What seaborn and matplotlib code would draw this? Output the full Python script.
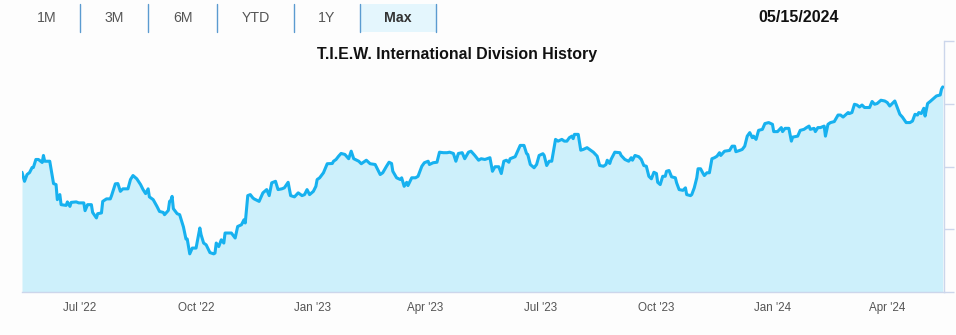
import matplotlib
matplotlib.use("Agg")
import matplotlib.pyplot as plt
import matplotlib.dates as mdates
from matplotlib.patches import Rectangle
from matplotlib.lines import Line2D
import pandas as pd
import seaborn as sns

# ---- division history (closing values) ----
dates_2022 = [
    "2022-05-16", "2022-05-18", "2022-05-20", "2022-05-22", "2022-05-24", "2022-05-25",
    "2022-05-27", "2022-05-29", "2022-06-01", "2022-06-02", "2022-06-03", "2022-06-07",
    "2022-06-10", "2022-06-12", "2022-06-13", "2022-06-15", "2022-06-16", "2022-06-20",
    "2022-06-21", "2022-06-23", "2022-06-24", "2022-06-28", "2022-06-30", "2022-07-04",
    "2022-07-05", "2022-07-07", "2022-07-10", "2022-07-11", "2022-07-14", "2022-07-15",
    "2022-07-18", "2022-07-19", "2022-07-22", "2022-07-25", "2022-07-26", "2022-07-29",
    "2022-07-31", "2022-08-02", "2022-08-04", "2022-08-08", "2022-08-10", "2022-08-12",
    "2022-08-15", "2022-08-18", "2022-08-20", "2022-08-22", "2022-08-24", "2022-08-25",
    "2022-08-28", "2022-08-31", "2022-09-02", "2022-09-05", "2022-09-06", "2022-09-09",
    "2022-09-10", "2022-09-11", "2022-09-12", "2022-09-13", "2022-09-16", "2022-09-18",
    "2022-09-21", "2022-09-23", "2022-09-24", "2022-09-26", "2022-09-28", "2022-10-01",
    "2022-10-04", "2022-10-05", "2022-10-07", "2022-10-09", "2022-10-12", "2022-10-15",
    "2022-10-16", "2022-10-17", "2022-10-19", "2022-10-21", "2022-10-23", "2022-10-24",
    "2022-10-29", "2022-11-01", "2022-11-03", "2022-11-06", "2022-11-08", "2022-11-09",
    "2022-11-11", "2022-11-13", "2022-11-15", "2022-11-16", "2022-11-20", "2022-11-23",
    "2022-11-26", "2022-11-28", "2022-11-30", "2022-12-03", "2022-12-05", "2022-12-08",
    "2022-12-10", "2022-12-13", "2022-12-15", "2022-12-18", "2022-12-21", "2022-12-24",
    "2022-12-26", "2022-12-28", "2022-12-30",
]
values_2022 = [
    29.54, 28.82, 29.36, 29.52, 29.92, 29.92, 30.56, 30.56, 30.32, 30.88, 30.42, 30.42,
    28.64, 28.56, 27.36, 27.76, 26.96, 26.90, 27.18, 26.82, 27.14, 27.18, 27.10, 27.10,
    26.48, 26.96, 26.96, 26.34, 25.90, 26.24, 26.30, 27.22, 27.42, 27.42, 27.68, 28.62,
    28.64, 28.02, 28.22, 28.22, 28.96, 29.28, 29.02, 28.56, 28.16, 27.84, 28.22, 27.58,
    27.36, 26.82, 26.42, 26.34, 26.16, 26.50, 27.22, 27.28, 27.62, 26.64, 26.24, 26.16,
    25.18, 24.22, 24.22, 23.04, 23.50, 23.50, 25.10, 24.56, 23.90, 23.76, 23.14, 23.04,
    23.10, 23.90, 23.62, 24.16, 23.90, 24.70, 24.70, 24.30, 25.22, 25.36, 25.76, 25.50,
    27.68, 27.76, 27.50, 27.42, 27.22, 27.90, 28.16, 27.68, 28.70, 28.82, 28.16, 28.22,
    28.30, 28.74, 27.68, 27.58, 27.90, 27.68, 27.76, 28.16, 27.76,
]

dates_2023 = [
    "2023-01-02", "2023-01-04", "2023-01-05", "2023-01-07", "2023-01-10", "2023-01-13",
    "2023-01-17", "2023-01-18", "2023-01-20", "2023-01-22", "2023-01-24", "2023-01-27",
    "2023-01-30", "2023-02-01", "2023-02-03", "2023-02-07", "2023-02-09", "2023-02-13",
    "2023-02-16", "2023-02-20", "2023-02-22", "2023-02-24", "2023-02-26", "2023-03-01",
    "2023-03-03", "2023-03-05", "2023-03-06", "2023-03-09", "2023-03-12", "2023-03-13",
    "2023-03-15", "2023-03-17", "2023-03-18", "2023-03-21", "2023-03-24", "2023-03-26",
    "2023-03-29", "2023-03-31", "2023-04-03", "2023-04-04", "2023-04-07", "2023-04-10",
    "2023-04-12", "2023-04-15", "2023-04-18", "2023-04-20", "2023-04-23", "2023-04-25",
    "2023-04-27", "2023-04-30", "2023-05-02", "2023-05-05", "2023-05-07", "2023-05-10",
    "2023-05-13", "2023-05-15", "2023-05-18", "2023-05-22", "2023-05-24", "2023-05-26",
    "2023-05-29", "2023-05-31", "2023-06-02", "2023-06-04", "2023-06-06", "2023-06-07",
    "2023-06-09", "2023-06-11", "2023-06-13", "2023-06-15", "2023-06-18", "2023-06-20",
    "2023-06-21", "2023-06-23", "2023-06-26", "2023-06-28", "2023-06-30", "2023-07-03",
    "2023-07-04", "2023-07-06", "2023-07-08", "2023-07-10", "2023-07-13", "2023-07-15",
    "2023-07-18", "2023-07-20", "2023-07-22", "2023-07-24", "2023-07-26", "2023-07-27",
    "2023-07-28", "2023-07-31", "2023-08-02", "2023-08-04", "2023-08-07", "2023-08-09",
    "2023-08-12", "2023-08-15", "2023-08-17", "2023-08-20", "2023-08-22", "2023-08-23",
    "2023-08-25", "2023-08-26", "2023-08-29", "2023-09-02", "2023-09-03", "2023-09-06",
    "2023-09-09", "2023-09-11", "2023-09-12", "2023-09-14", "2023-09-17", "2023-09-19",
    "2023-09-21", "2023-09-23", "2023-09-25", "2023-09-27", "2023-09-29", "2023-10-01",
    "2023-10-02", "2023-10-04", "2023-10-06", "2023-10-08", "2023-10-09", "2023-10-11",
    "2023-10-13", "2023-10-16", "2023-10-17", "2023-10-19", "2023-10-22", "2023-10-24",
    "2023-10-25", "2023-10-28", "2023-10-29", "2023-10-31", "2023-11-02", "2023-11-03",
    "2023-11-05", "2023-11-07", "2023-11-08", "2023-11-10", "2023-11-12", "2023-11-14",
    "2023-11-16", "2023-11-18", "2023-11-20", "2023-11-21", "2023-11-24", "2023-11-28",
    "2023-11-30", "2023-12-02", "2023-12-03", "2023-12-06", "2023-12-08", "2023-12-10",
    "2023-12-12", "2023-12-14", "2023-12-16", "2023-12-17", "2023-12-19", "2023-12-21",
    "2023-12-24", "2023-12-26", "2023-12-29",
]
values_2023 = [
    28.02, 28.42, 28.96, 29.10, 29.50, 30.22, 30.24, 30.42, 30.56, 30.82, 31.04, 30.96,
    30.62, 31.22, 30.62, 30.42, 30.22, 30.50, 30.22, 30.16, 29.76, 29.36, 29.50, 30.02,
    30.34, 30.24, 29.62, 29.10, 28.96, 29.10, 28.42, 28.74, 28.48, 29.10, 29.10, 29.22,
    30.02, 30.30, 30.42, 30.16, 30.30, 30.34, 31.14, 31.10, 31.10, 31.14, 31.04, 30.42,
    31.04, 31.10, 30.62, 31.14, 31.22, 30.88, 30.50, 30.62, 30.56, 30.70, 29.62, 29.98,
    29.98, 29.44, 30.42, 30.50, 30.34, 30.62, 30.70, 30.78, 31.22, 31.68, 31.68, 31.04,
    30.96, 30.16, 29.90, 30.16, 30.88, 31.02, 30.88, 30.08, 30.42, 30.42, 32.16, 32.02,
    32.16, 32.02, 32.02, 32.30, 32.42, 32.22, 32.56, 32.56, 31.30, 31.36, 31.50, 31.36,
    31.14, 30.82, 30.08, 30.02, 30.16, 30.50, 30.24, 30.56, 31.14, 31.10, 30.88, 30.56,
    30.42, 30.70, 30.50, 30.88, 30.78, 30.56, 30.08, 30.02, 29.22, 29.02, 29.54, 29.44,
    28.74, 28.56, 29.22, 29.22, 29.62, 29.68, 29.18, 29.10, 28.70, 28.16, 28.10, 28.30,
    27.76, 27.68, 27.76, 28.30, 29.10, 29.82, 29.82, 29.44, 29.28, 29.50, 29.50, 30.62,
    30.70, 30.82, 31.10, 30.88, 31.22, 31.28, 31.62, 31.62, 31.18, 31.28, 31.36, 31.62,
    32.42, 32.70, 32.30, 32.42, 32.16, 32.88, 32.96, 33.42, 33.50,
]

dates_2024 = [
    "2024-01-01", "2024-01-02", "2024-01-05", "2024-01-08", "2024-01-09", "2024-01-11",
    "2024-01-14", "2024-01-16", "2024-01-17", "2024-01-21", "2024-01-23", "2024-01-26",
    "2024-01-28", "2024-01-30", "2024-01-31", "2024-02-03", "2024-02-04", "2024-02-06",
    "2024-02-08", "2024-02-11", "2024-02-12", "2024-02-14", "2024-02-16", "2024-02-19",
    "2024-02-22", "2024-02-24", "2024-02-26", "2024-03-01", "2024-03-02", "2024-03-04",
    "2024-03-06", "2024-03-08", "2024-03-10", "2024-03-12", "2024-03-14", "2024-03-18",
    "2024-03-20", "2024-03-22", "2024-03-24", "2024-03-27", "2024-03-30", "2024-04-01",
    "2024-04-03", "2024-04-05", "2024-04-07", "2024-04-09", "2024-04-11", "2024-04-13",
    "2024-04-16", "2024-04-19", "2024-04-21", "2024-04-23", "2024-04-25", "2024-04-26",
    "2024-04-28", "2024-04-30", "2024-05-01", "2024-05-03", "2024-05-05", "2024-05-07",
    "2024-05-10", "2024-05-13", "2024-05-14", "2024-05-15",
]
values_2024 = [
    33.36, 32.78, 32.78, 33.10, 32.78, 33.04, 33.04, 32.02, 32.34, 32.42, 32.88, 32.96,
    33.10, 33.22, 32.96, 33.04, 32.78, 33.10, 33.10, 33.22, 32.42, 33.36, 33.50, 33.58,
    34.10, 34.10, 33.94, 34.30, 34.22, 34.30, 34.96, 34.90, 34.74, 34.90, 34.70, 34.70,
    35.18, 34.96, 35.02, 35.28, 35.22, 35.10, 34.82, 35.02, 35.22, 34.70, 34.16, 33.94,
    33.50, 33.50, 33.62, 34.16, 34.10, 34.30, 34.22, 34.64, 34.02, 35.02, 35.18, 35.36,
    35.62, 35.70, 36.16, 36.34,
]

range_buttons = ["1M", "3M", "6M", "YTD", "1Y", "Max"]
selected_button = "Max"
as_of_date = "05/15/2024"
chart_title = "T.I.E.W. International Division History"
y_ticks = [20, 25, 30, 35, 40]
x_start, x_end = "2022-05-16", "2024-05-16"

# ---- styling ----
BG = "#fdfdfd"
LINE = "#17b1ef"
FILL = "#cdf0fb"
AXIS = "#ccd6eb"
SEP = "#5b9bd0"

sns.set_theme(style="white")
plt.rcParams["font.family"] = ["Liberation Sans", "DejaVu Sans"]

df = pd.DataFrame({
    "date": pd.to_datetime(dates_2022 + dates_2023 + dates_2024),
    "value": values_2022 + values_2023 + values_2024,
})

W, H = 956, 335
fig = plt.figure(figsize=(W / 100, H / 100), dpi=100, facecolor=BG)

# plot area in pixel bounds
left, right, top, bottom = 22, 944, 41, 292
ax = fig.add_axes([left / W, 1 - bottom / H, (right - left) / W, (bottom - top) / H])
ax.set_facecolor(BG)

ax.fill_between(df["date"], df["value"], y_ticks[0], color=FILL, lw=0, zorder=1)
sns.lineplot(data=df, x="date", y="value", ax=ax, color=LINE, lw=2.2, zorder=3)

ax.set_xlim(pd.Timestamp(x_start), pd.Timestamp(x_end))
ax.set_ylim(y_ticks[0], y_ticks[-1])
ax.set_yticks(y_ticks)
ax.yaxis.tick_right()
ax.tick_params(axis="y", right=True, left=False, labelright=False, labelleft=False,
               length=7.2, width=1, color=AXIS)
ax.xaxis.set_major_locator(mdates.MonthLocator(bymonth=[1, 4, 7, 10]))
ax.xaxis.set_major_formatter(mdates.DateFormatter("%b '%y"))
ax.tick_params(axis="x", bottom=True, length=0, pad=7, labelsize=8.4, labelcolor="#555555")
ax.set_xlabel("")
ax.set_ylabel("")
ax.grid(False)
for side in ("left", "top"):
    ax.spines[side].set_visible(False)
for side in ("right", "bottom"):
    ax.spines[side].set_color(AXIS)
    ax.spines[side].set_linewidth(1.0)

# title and as-of date
fig.text(457.5 / W, 1 - 55 / H, chart_title, ha="center", va="center",
         fontsize=11.4, fontweight="bold", color="#111111")
fig.text(799 / W, 1 - 17 / H, as_of_date, ha="center", va="center",
         fontsize=11.5, fontweight="bold", color="#111111")

# range selector buttons
btn_centers = [46.5, 114.5, 182.5, 255.5, 327, 398]
btn_edges = [80, 148, 217, 294, 360, 436]
btn_top, btn_bot = 4, 31.5
for label, cx in zip(range_buttons, btn_centers):
    sel = label == selected_button
    if sel:
        i = range_buttons.index(label)
        x0 = btn_edges[i - 1]
        x1 = btn_edges[i]
        fig.add_artist(Rectangle((x0 / W, 1 - btn_bot / H), (x1 - x0) / W,
                                 (btn_bot - btn_top) / H, transform=fig.transFigure,
                                 facecolor="#e4f6fd", edgecolor="none", zorder=0))
    fig.text(cx / W, 1 - 18 / H, label, ha="center", va="center", fontsize=10.2,
             fontweight="bold" if sel else "normal",
             color="#333333" if sel else "#555555")
for ex in btn_edges:
    fig.add_artist(Line2D([ex / W, ex / W], [1 - btn_top / H, 1 - btn_bot / H],
                          transform=fig.transFigure, color=SEP, lw=1.0))

fig.savefig("out.png", dpi=100, facecolor=BG)
